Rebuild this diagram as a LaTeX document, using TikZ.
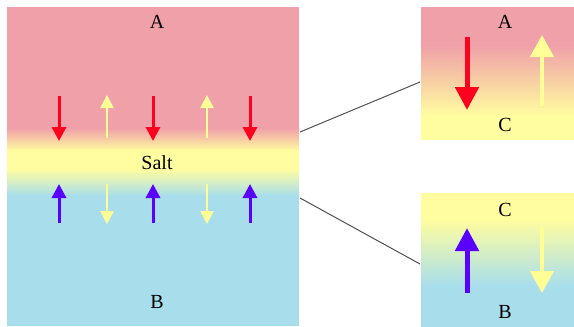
\documentclass[tikz,border=0pt]{standalone}
\usepackage{fontspec}
\setmainfont{Liberation Serif}
\usetikzlibrary{arrows.meta}
\definecolor{pinkbg}{RGB}{240,160,168}
\definecolor{yelbg}{RGB}{255,253,160}
\definecolor{bluebg}{RGB}{168,222,236}
\definecolor{redarr}{RGB}{255,0,30}
\definecolor{yelarr}{RGB}{255,255,150}
\definecolor{bluearr}{RGB}{90,0,255}
\definecolor{linegray}{RGB}{80,80,80}
\tikzset{
  lbl/.style={font=\fontsize{20}{23}\selectfont, inner sep=0pt, text=black},
  smallred/.style={draw=redarr, line width=3pt, -{Triangle[width=14pt,length=14pt]}},
  smallblue/.style={draw=bluearr, line width=3pt, -{Triangle[width=14pt,length=14pt]}},
  smallyel/.style={draw=yelarr, line width=2.7pt, -{Triangle[width=13pt,length=13pt]}},
  bigred/.style={draw=redarr, line width=5pt, -{Triangle[width=23pt,length=23pt]}},
  bigblue/.style={draw=bluearr, line width=5pt, -{Triangle[width=23pt,length=23pt]}},
  bigyel/.style={draw=yelarr, line width=4.5pt, -{Triangle[width=23pt,length=22pt]}},
  zoomline/.style={draw=linegray, line width=1pt}
}
\begin{document}
\begin{tikzpicture}[x=1pt,y=-1pt]
\useasboundingbox (0,0) rectangle (574,327);
% left panel background
\fill[pinkbg] (7,7) rectangle (299,129);
\shade[top color=pinkbg, bottom color=yelbg] (7,128) rectangle (299,151);
\fill[yelbg] (7,150) rectangle (299,170);
\shade[top color=yelbg, bottom color=bluebg] (7,169) rectangle (299,196);
\fill[bluebg] (7,195) rectangle (299,326);
% top right panel
\fill[pinkbg] (421,7) rectangle (574,46);
\shade[top color=pinkbg, bottom color=yelbg] (421,45) rectangle (574,116);
\fill[yelbg] (421,115) rectangle (574,140);
% bottom right panel
\fill[yelbg] (421,193) rectangle (574,221);
\shade[top color=yelbg, bottom color=bluebg] (421,220) rectangle (574,286);
\fill[bluebg] (421,285) rectangle (574,327);
% labels
\node[lbl] (A1) at (157,22) {A};
\node[lbl] (salt) at (157,163) {Salt};
\node[lbl] (B1) at (157,302) {B};
\node[lbl] (A2) at (505,22) {A};
\node[lbl] (C2) at (505,125) {C};
\node[lbl] (C3) at (505,210) {C};
\node[lbl] (B3) at (505,312) {B};
% small arrows
\foreach \x in {59,153,250} {
  \coordinate (rs\x) at (\x,96); \coordinate (re\x) at (\x,141);
  \draw[smallred] (rs\x) -- (re\x);
  \coordinate (bs\x) at (\x,223); \coordinate (be\x) at (\x,184);
  \draw[smallblue] (bs\x) -- (be\x);
}
\foreach \x in {107,207} {
  \coordinate (ys\x) at (\x,138); \coordinate (ye\x) at (\x,95);
  \draw[smallyel] (ys\x) -- (ye\x);
  \coordinate (ds\x) at (\x,184); \coordinate (de\x) at (\x,224);
  \draw[smallyel] (ds\x) -- (de\x);
}
% big arrows
\coordinate (R1s) at (467,37); \coordinate (R1e) at (467,110);
\draw[bigred] (R1s) -- (R1e);
\coordinate (Y1s) at (542,106); \coordinate (Y1e) at (542,35);
\draw[bigyel] (Y1s) -- (Y1e);
\coordinate (B2s) at (467,293); \coordinate (B2e) at (467,228);
\draw[bigblue] (B2s) -- (B2e);
\coordinate (Y2s) at (542,227); \coordinate (Y2e) at (542,293);
\draw[bigyel] (Y2s) -- (Y2e);
% zoom lines
\coordinate (L1a) at (300,132); \coordinate (L1b) at (420,82);
\coordinate (L2a) at (300,198); \coordinate (L2b) at (420,264);
\draw[zoomline] (L1a) -- (L1b);
\draw[zoomline] (L2a) -- (L2b);
\end{tikzpicture}
\end{document}
